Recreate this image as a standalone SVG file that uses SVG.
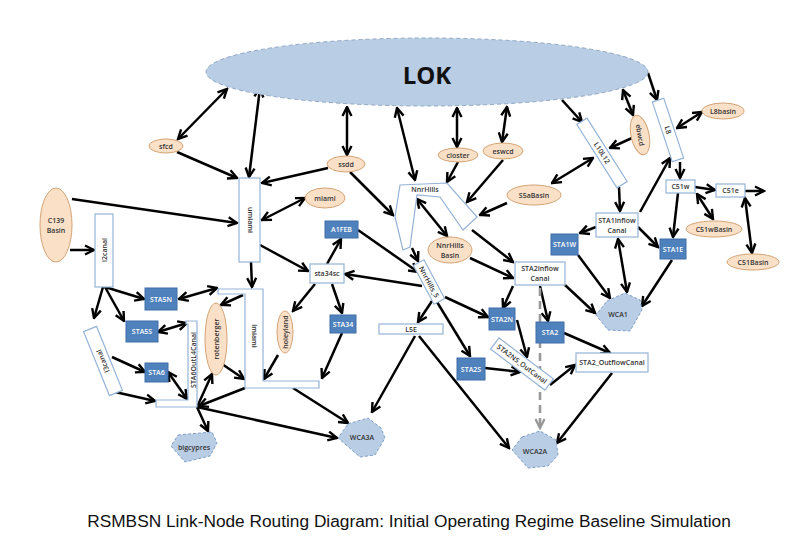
<svg xmlns="http://www.w3.org/2000/svg" width="805" height="545" viewBox="0 0 805 545">
<style>
.t{font-family:"Open Sans","Liberation Sans",sans-serif;font-size:7px;font-weight:600;fill:#333;text-anchor:middle;dominant-baseline:central}
.w{fill:#fff}
.el{fill:#FBE0C8;stroke:#D3A476;stroke-width:1}
.bx{fill:#fff;stroke:#95B3D7;stroke-width:1.2}
.bl{fill:#4F81BD;stroke:#3F6FA8;stroke-width:1}
.wca{fill:#B9CDE5;stroke:#7F9FC8;stroke-width:1;stroke-dasharray:3,2}
.c{fill:none;stroke:#000;stroke-width:2.5;marker-end:url(#ah)}
.d{fill:none;stroke:#000;stroke-width:2.5;marker-end:url(#ah);marker-start:url(#ah)}
.g{fill:none;stroke:#999;stroke-width:2.6;stroke-dasharray:8,5;marker-end:url(#ag)}
</style>
<defs>
<marker id="ah" viewBox="0 0 12 12" refX="10.5" refY="6" markerWidth="12" markerHeight="12" markerUnits="userSpaceOnUse" orient="auto-start-reverse"><path d="M1.5,1.5 L10.5,6 L1.5,10.5" fill="none" stroke="#000" stroke-width="2.4"/></marker>
<marker id="ag" viewBox="0 0 12 12" refX="10.5" refY="6" markerWidth="12" markerHeight="12" markerUnits="userSpaceOnUse" orient="auto"><path d="M1.5,1.5 L10.5,6 L1.5,10.5" fill="none" stroke="#999" stroke-width="2.4"/></marker>
</defs>
<rect width="805" height="545" fill="#fff"/>
<g id="connectors">
<path class="d" d="M227,89 L178,139"/>
<path class="d" d="M260,88 L249,177"/>
<path class="c" d="M177,152 L237,178"/>
<path class="c" d="M328,168 L262,183"/>
<path class="c" d="M72,199 L237,223"/>
<path class="d" d="M262,220 L305,198"/>
<path class="d" d="M347,107 L347,155"/>
<path class="d" d="M397,108 L415,180"/>
<path class="d" d="M457,108 L457,147"/>
<path class="d" d="M507,107 L502,142"/>
<path class="c" d="M458,162 L447,182"/>
<path class="c" d="M503,160 L467,202"/>
<path class="c" d="M350,172 L393,215"/>
<path class="c" d="M507,203 L480,215"/>
<path class="c" d="M562,100 L582,122"/>
<path class="d" d="M623,90 L633,115"/>
<path class="c" d="M648,73 L657,100"/>
<path class="c" d="M632,138 L610,148"/>
<path class="d" d="M702,112 L677,128"/>
<path class="d" d="M593,158 L552,183"/>
<path class="c" d="M680,162 L680,178"/>
<path class="c" d="M695,187 L715,190"/>
<path class="c" d="M745,191 L764,191"/>
<path class="c" d="M640,212 L670,158"/>
<path class="c" d="M619,187 L620,211"/>
<path class="d" d="M697,194 L713,219"/>
<path class="d" d="M745,198 L752,253"/>
<path class="c" d="M678,193 L673,237"/>
<path class="c" d="M596,227 L580,233"/>
<path class="c" d="M638,227 L658,247"/>
<path class="d" d="M618,239 L627,292"/>
<path class="c" d="M578,255 L610,298"/>
<path class="c" d="M672,260 L642,306"/>
<path class="c" d="M565,285 L595,313"/>
<path class="c" d="M540,286 L548,321"/>
<path class="c" d="M513,286 L503,308"/>
<path class="c" d="M472,230 L513,262"/>
<path class="c" d="M470,258 L513,278"/>
<path class="d" d="M417,199 L447,236"/>
<path class="c" d="M412,248 L418,261"/>
<path class="c" d="M358,230 L418,272"/>
<path class="c" d="M422,286 L345,274"/>
<path class="c" d="M327,264 L341,239"/>
<path class="c" d="M260,245 L308,271"/>
<path class="c" d="M315,284 L293,311"/>
<path class="c" d="M332,284 L342,313"/>
<path class="c" d="M432,301 L418,322"/>
<path class="c" d="M437,302 L470,356"/>
<path class="c" d="M445,297 L488,317"/>
<path class="c" d="M517,320 L527,357"/>
<path class="c" d="M485,368 L520,372"/>
<path class="c" d="M550,385 L575,365"/>
<path class="c" d="M564,333 L610,353"/>
<path class="c" d="M612,373 L557,443"/>
<path class="g" d="M540,288 L540,428"/>
<path class="c" d="M415,336 L372,412"/>
<path class="c" d="M419,336 L509,448"/>
<path class="c" d="M342,333 L322,378"/>
<path class="c" d="M293,388 L348,423"/>
<path class="c" d="M197,407 L337,438"/>
<path class="c" d="M278,355 L264,379"/>
<path class="c" d="M251,262 L252,287"/>
<path class="d" d="M179,299 L217,288"/>
<path class="c" d="M243,295 L221,305"/>
<path class="c" d="M222,364 L244,379"/>
<path class="c" d="M197,407 L212,374"/>
<path class="c" d="M245,388 L199,406"/>
<path class="c" d="M197,407 L208,431"/>
<path class="d" d="M158,332 L187,323"/>
<path class="d" d="M168,372 L187,399"/>
<path class="c" d="M115,392 L155,401"/>
<path class="c" d="M112,357 L145,372"/>
<path class="c" d="M103,287 L94,318"/>
<path class="c" d="M105,287 L124,321"/>
<path class="c" d="M105,287 L144,299"/>
<path class="c" d="M70,250 L94,250"/>
</g>
<g id="LOK"><ellipse cx="427" cy="72" rx="221" ry="34" fill="#B9CDE5" stroke="#8FA6C3" stroke-width="1" stroke-dasharray="4,3"/><text x="427" y="74" class="t" style="font-size:24px;font-weight:700;fill:#111">LOK</text></g>
<g id="sfcd"><ellipse class="el" cx="166" cy="146" rx="17" ry="7"/><text class="t" x="166" y="146">sfcd</text></g>
<g id="umiami"><rect class="bx" x="239" y="178" width="21" height="84"/><text class="t" transform="translate(250,220) rotate(90)">umiami</text></g>
<g id="miami"><ellipse class="el" cx="325" cy="198" rx="20" ry="10"/><text class="t" x="325" y="198">miami</text></g>
<g id="ssdd"><ellipse class="el" cx="346" cy="164" rx="19" ry="8"/><text class="t" x="346" y="164">ssdd</text></g>
<g id="closter"><ellipse class="el" cx="458" cy="155" rx="20" ry="7"/><text class="t" x="458" y="155">closter</text></g>
<g id="eswcd"><ellipse class="el" cx="503" cy="151" rx="20" ry="8"/><text class="t" x="503" y="151">eswcd</text></g>
<g id="S5aBasin"><ellipse class="el" cx="534" cy="195" rx="27" ry="10"/><text class="t" x="534" y="195">S5aBasin</text></g>
<g id="NnrHills"><polygon class="bx" points="403,250 395,217 400,185 447,183 477,217 463,230 440,197 417,195 410,247"/><text class="t" x="425" y="189">NnrHills</text></g>
<g id="NnrHillsBasin"><ellipse class="el" cx="450" cy="250" rx="22" ry="13"/><text class="t" x="450" y="245">NnrHills</text><text class="t" x="450" y="255">Basin</text></g>
<g id="A1FEB"><rect class="bl" x="325" y="221" width="33" height="17"/><text class="t w" x="341.5" y="229.5">A1FEB</text></g>
<g id="sta34sc"><rect class="bx" x="310" y="264" width="34" height="19"/><text class="t" x="327" y="273.5">sta34sc</text></g>
<g id="NnrHills_5" transform="translate(429,282) rotate(62)"><rect class="bx" x="-22" y="-6" width="44" height="12"/><text class="t" x="0" y="0">NnrHills_5</text></g>
<g id="STA2InflowCanal"><rect class="bx" x="515" y="262" width="50" height="23"/><text class="t" x="540" y="268.5">STA2Inflow</text><text class="t" x="540" y="278.5">Canal</text></g>
<g id="L10L12" transform="translate(602,153) rotate(57.6)"><rect class="bx" x="-37.5" y="-6" width="75" height="12"/><text class="t" x="0" y="0">L10L12</text></g>
<g id="ebwcd"><ellipse class="el" cx="640" cy="135" rx="9" ry="20" transform="rotate(-12 640 135)"/><text class="t" transform="translate(640,135) rotate(80)">ebwcd</text></g>
<g id="L8" transform="translate(668,130) rotate(71.6)"><rect class="bx" x="-31.5" y="-6" width="63" height="12"/><text class="t" x="0" y="0">L8</text></g>
<g id="L8basin"><ellipse class="el" cx="723" cy="111" rx="21" ry="8"/><text class="t" x="723" y="111">L8basin</text></g>
<g id="C51w"><rect class="bx" x="666" y="180" width="29" height="13"/><text class="t" x="680.5" y="186.5">C51w</text></g>
<g id="C51e"><rect class="bx" x="716" y="184" width="29" height="13"/><text class="t" x="730.5" y="190.5">C51e</text></g>
<g id="C51wBasin"><ellipse class="el" cx="714" cy="229" rx="28" ry="8"/><text class="t" x="714" y="229">C51wBasin</text></g>
<g id="C51Basin"><ellipse class="el" cx="753" cy="262" rx="26" ry="8"/><text class="t" x="753" y="262">C51Basin</text></g>
<g id="STA1InflowCanal"><rect class="bx" x="596" y="213" width="42" height="24"/><text class="t" x="617" y="220">STA1Inflow</text><text class="t" x="617" y="230">Canal</text></g>
<g id="STA1W"><rect class="bl" x="551" y="234" width="27" height="21"/><text class="t w" x="564.5" y="244.5">STA1W</text></g>
<g id="STA1E"><rect class="bl" x="660" y="239" width="26" height="20"/><text class="t w" x="673" y="249">STA1E</text></g>
<g id="WCA1"><polygon class="wca" points="607,301 625,293 640,300 642,310 630,331 608,330 596,315"/><text class="t" x="618" y="314">WCA1</text></g>
<g id="STA2N"><rect class="bl" x="489" y="308" width="26" height="22"/><text class="t w" x="502" y="319">STA2N</text></g>
<g id="STA2"><rect class="bl" x="536" y="322" width="28" height="21"/><text class="t w" x="550" y="332.5">STA2</text></g>
<g id="STA2NS_OutCanal" transform="translate(522,364) rotate(37)"><rect class="bx" x="-34" y="-7" width="68" height="14"/><text class="t" x="0" y="0">STA2NS_OutCanal</text></g>
<g id="STA2S"><rect class="bl" x="457" y="358" width="28" height="22"/><text class="t w" x="471" y="369">STA2S</text></g>
<g id="STA2_OutflowCanal"><rect class="bx" x="576" y="353" width="72" height="19"/><text class="t" x="612" y="362.5">STA2_OutflowCanal</text></g>
<g id="WCA2A"><polygon class="wca" points="522,437 540,431 556,440 558,455 548,466 528,468 512,450"/><text class="t" x="535" y="451">WCA2A</text></g>
<g id="L5E"><rect class="bx" x="379" y="324" width="64" height="10"/><text class="t" x="411" y="329">L5E</text></g>
<g id="STA34"><rect class="bl" x="330" y="315" width="26" height="18"/><text class="t w" x="343" y="324">STA34</text></g>
<g id="WCA3A"><polygon class="wca" points="348,424 368,418 381,428 385,438 375,455 360,457 338,438"/><text class="t" x="362" y="437">WCA3A</text></g>
<g id="holeyland"><ellipse class="el" cx="285" cy="332" rx="8" ry="21"/><text class="t" transform="translate(285,332) rotate(-90)">holeyland</text></g>
<g id="rotenberger"><ellipse class="el" cx="216" cy="339" rx="11" ry="36"/><text class="t" transform="translate(216,339) rotate(-90)">rotenberger</text></g>
<g id="lmiami"><polygon class="bx" points="218,289 263,289 263,381 319,381 319,388 245,388 245,294 218,294"/><text class="t" transform="translate(254,336) rotate(90)">lmiami</text></g>
<g id="STA6OutL4Canal"><polygon class="bx" points="186,321 197,321 197,407 156,407 156,400 188,400 188,324 186,324"/><text class="t" transform="translate(193,360) rotate(-90)">STA6OutL4Canal</text></g>
<g id="l2canal"><rect class="bx" x="95" y="214" width="18" height="73"/><text class="t" transform="translate(104,250) rotate(-90)">l2canal</text></g>
<g id="C139Basin"><ellipse class="el" cx="56" cy="225" rx="16" ry="37"/><text class="t" x="56" y="220">C139</text><text class="t" x="56" y="230">Basin</text></g>
<g id="l3canal" transform="translate(103,361) rotate(68)"><rect class="bx" x="-34.5" y="-7" width="69" height="14"/><text class="t" transform="rotate(180)">l3canal</text></g>
<g id="STA5N"><rect class="bl" x="145" y="288" width="32" height="22"/><text class="t w" x="161" y="299">STA5N</text></g>
<g id="STA5S"><rect class="bl" x="126" y="321" width="32" height="21"/><text class="t w" x="142" y="331.5">STA5S</text></g>
<g id="STA6"><rect class="bl" x="145" y="363" width="23" height="19"/><text class="t w" x="156.5" y="372.5">STA6</text></g>
<g id="bigcypres"><polygon class="wca" points="178,435 212,432 217,443 210,456 185,462 171,446"/><text class="t" x="194" y="447">bigcypres</text></g>
<text x="409" y="527" text-anchor="middle" style="font-family:'Liberation Sans',Arial,sans-serif;font-size:17.3px;fill:#111">RSMBSN Link-Node Routing Diagram: Initial Operating Regime Baseline Simulation</text>
</svg>
